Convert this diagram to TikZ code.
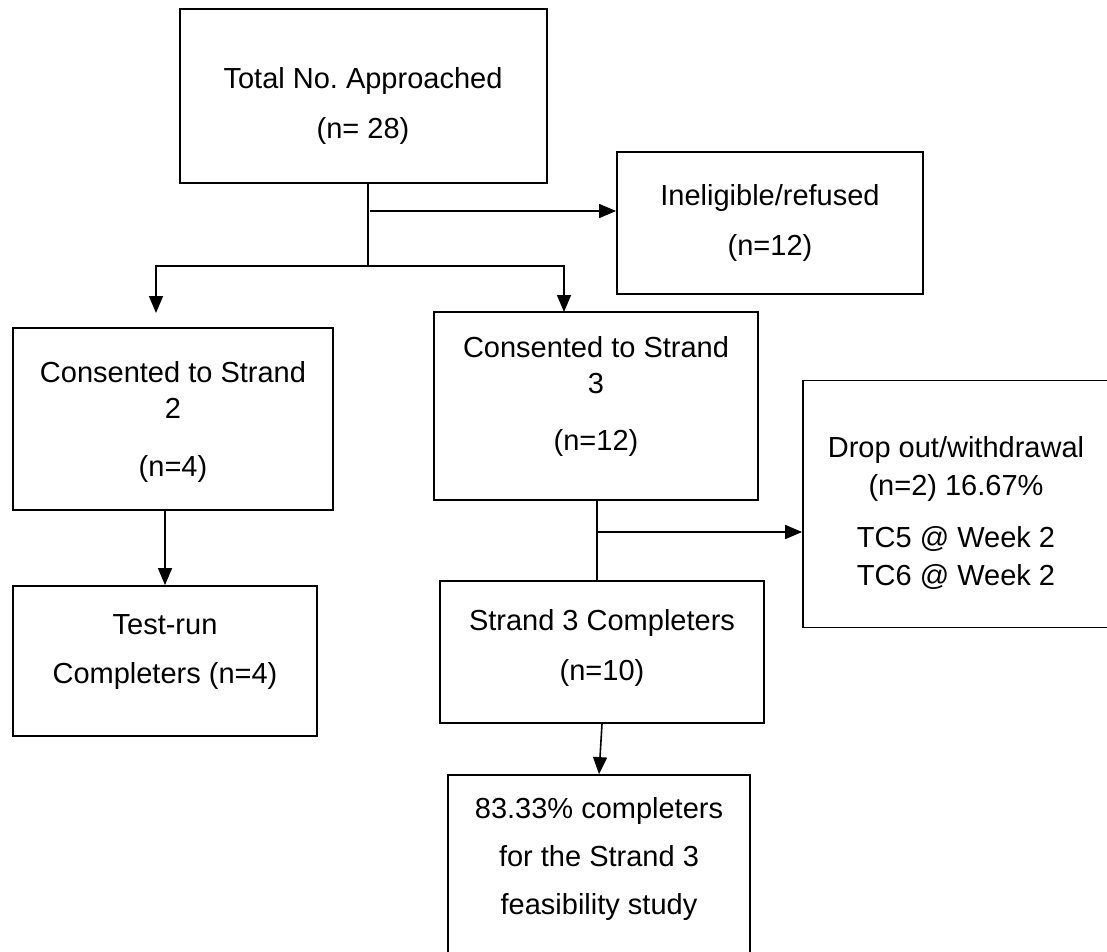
\documentclass[tikz,border=0pt]{standalone}
\usepackage{fontspec}
\setmainfont{Liberation Sans}
\usetikzlibrary{arrows.meta,calc}
\frenchspacing
\begin{document}
\begin{tikzpicture}[x=1pt,y=-1pt,
  box/.style={draw,line width=1.8pt,minimum width=#1,inner sep=0pt},
  txt/.style={anchor=base,inner sep=0pt,font=\fontsize{29}{34}\selectfont},
  link/.style={line width=1.6pt},
  arr/.style={link,-{Triangle[width=14pt,length=17pt]}}]
\useasboundingbox (0,0) rectangle (1107,951);

% boxes
\node[box=367pt,minimum height=174pt] (total) at (363.5,96) {};
\node[box=306pt,minimum height=142pt] (inel) at (770,223) {};
\node[box=320pt,minimum height=182pt] (cs2) at (173,419) {};
\node[box=324pt,minimum height=188pt] (cs3) at (596,406) {};
\node[box=320pt,minimum height=247pt] (drop) at (963,504) {};
\node[box=324pt,minimum height=142pt] (done3) at (602,652) {};
\node[box=304pt,minimum height=150pt] (trun) at (165,661) {};
\node[box=302pt,minimum height=185pt] (rate) at (599,867.5) {};

% texts
\node[txt] (t1a) at (363,88) {Total No. Approached};
\node[txt] (t1b) at (363,138) {(n= 28)};
\node[txt] (t2a) at (770,205) {Ineligible/refused};
\node[txt] (t2b) at (770,255) {(n=12)};
\node[txt] (t3a) at (173,382) {Consented to Strand};
\node[txt] (t3b) at (173,418) {2};
\node[txt] (t3c) at (173,476) {(n=4)};
\node[txt] (t4a) at (596,357) {Consented to Strand};
\node[txt] (t4b) at (596,393) {3};
\node[txt] (t4c) at (596,450) {(n=12)};
\node[txt] (t5a) at (956,457) {Drop out/withdrawal};
\node[txt] (t5b) at (956,495) {(n=2) 16.67\%};
\node[txt] (t5c) at (956,547) {TC5 @ Week 2};
\node[txt] (t5d) at (956,585) {TC6 @ Week 2};
\node[txt] (t6a) at (602,630) {Strand 3 Completers};
\node[txt] (t6b) at (602,680) {(n=10)};
\node[txt] (t7a) at (165,634) {Test-run};
\node[txt] (t7b) at (165,683) {Completers (n=4)};
\node[txt] (t8a) at (599,818) {83.33\% completers};
\node[txt] (t8b) at (599,866) {for the Strand 3};
\node[txt] (t8c) at (599,914) {feasibility study};

% junction points
\coordinate (split) at (368,266);
\coordinate (side) at (370,211);
\coordinate (lefttip) at (156,313);
\coordinate (righttip) at (564,312);
\coordinate (stem) at (597,532);

% connectors
\draw[link] (total.south -| split) -- (split);
\draw[arr] (side) -- (side -| inel.west);
\draw[arr] (split) -| (lefttip);
\draw[arr] (split) -| (righttip);
\draw[arr] (trun.north |- cs2.south) -- (trun.north);
\draw[link] (cs3.south -| stem) -- (done3.north -| stem);
\draw[arr] (stem) -- (stem -| drop.west);
\draw[arr] (done3.south) -- (rate.north);
\end{tikzpicture}
\end{document}
